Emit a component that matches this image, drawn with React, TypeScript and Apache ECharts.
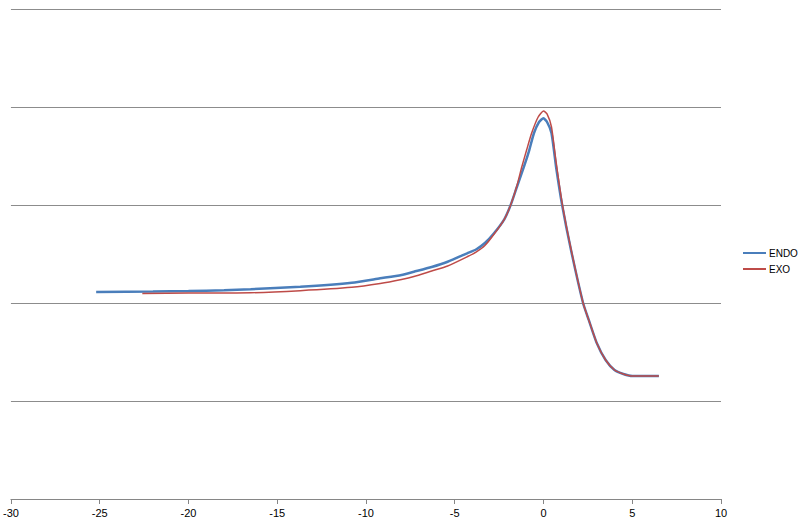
import React, { useEffect, useRef } from "react";
import * as echarts from "echarts";

const endoX = [-25.2, -22, -20, -18, -16.5, -13.7, -10.8, -9.2, -8, -7.3, -6.3, -5.4, -4.3, -3.8, -3.3, -2.8, -2.2, -1.85, -1.5, -1.1, -0.8, -0.54, -0.25, 0, 0.2, 0.45, 0.71, 1.05, 1.55, 2.23, 2.55, 3, 3.5, 4, 4.5, 5, 6.5];
const endoY = [2.112, 2.117, 2.122, 2.13, 2.14, 2.166, 2.207, 2.252, 2.286, 2.319, 2.367, 2.421, 2.507, 2.546, 2.612, 2.709, 2.857, 3.0, 3.184, 3.391, 3.561, 3.732, 3.847, 3.885, 3.847, 3.735, 3.388, 3.0, 2.541, 2.0, 1.827, 1.592, 1.418, 1.316, 1.276, 1.255, 1.255];

const exoX = [-22.6, -20, -16.5, -13.7, -10.8, -9.2, -8, -7.3, -6.3, -5.4, -4.3, -3.8, -3.3, -2.8, -2.2, -1.85, -1.5, -1.22, -0.95, -0.67, -0.3, 0, 0.2, 0.45, 0.71, 1.05, 1.55, 2.23, 2.55, 3, 3.5, 4, 4.5, 5, 6.5];
const exoY = [2.097, 2.102, 2.105, 2.126, 2.16, 2.199, 2.24, 2.27, 2.327, 2.378, 2.472, 2.52, 2.587, 2.699, 2.857, 3.0, 3.194, 3.391, 3.561, 3.732, 3.898, 3.959, 3.929, 3.796, 3.439, 3.02, 2.551, 2.0, 1.827, 1.592, 1.418, 1.316, 1.276, 1.255, 1.255];

const seriesNames = ["ENDO", "EXO"];

export default function App() {
  const ref = useRef<HTMLDivElement>(null);
  useEffect(() => {
    if (!ref.current) return;
    const chart = echarts.init(ref.current, undefined, { renderer: "svg" });
    chart.setOption({
      animation: false,
      backgroundColor: "#ffffff",
      grid: { left: 9, right: 79, top: 9, bottom: 24 },
      legend: {
        orient: "vertical",
        left: 743,
        top: 246,
        padding: 0,
        icon: "rect",
        itemWidth: 23,
        itemHeight: 2,
        itemGap: 2,
        textStyle: { fontFamily: "Liberation Sans", fontSize: 10, lineHeight: 14, color: "#000", padding: [0, 0, 0, -2] },
        data: seriesNames,
      },
      xAxis: {
        type: "value",
        min: -30,
        max: 10,
        interval: 5,
        axisLine: { lineStyle: { color: "#868686" } },
        axisTick: { show: true, length: 5, lineStyle: { color: "#868686" } },
        axisLabel: { fontFamily: "Liberation Sans", fontSize: 11, color: "#000", margin: 8 },
        splitLine: { show: false },
      },
      yAxis: {
        type: "value",
        min: 0,
        max: 5,
        interval: 1,
        axisLine: { show: false },
        axisTick: { show: false },
        axisLabel: { show: false },
        splitLine: { lineStyle: { color: "#8c8c8c", width: 1 } },
      },
      series: [
        {
          name: seriesNames[0],
          type: "line",
          symbol: "none",
          smooth: 0.2,
          lineStyle: { color: "#4A7EBB", width: 2.5 },
          itemStyle: { color: "#4A7EBB" },
          data: endoX.map((x, i) => [x, endoY[i]]),
          z: 2,
        },
        {
          name: seriesNames[1],
          type: "line",
          symbol: "none",
          smooth: 0.2,
          lineStyle: { color: "#BE4B48", width: 1.5 },
          itemStyle: { color: "#BE4B48" },
          data: exoX.map((x, i) => [x, exoY[i]]),
          z: 3,
        },
      ],
    });
    return () => chart.dispose();
  }, []);
  return <div ref={ref} style={{ position: "fixed", left: 0, top: 0, width: 800, height: 523 }} />;
}
